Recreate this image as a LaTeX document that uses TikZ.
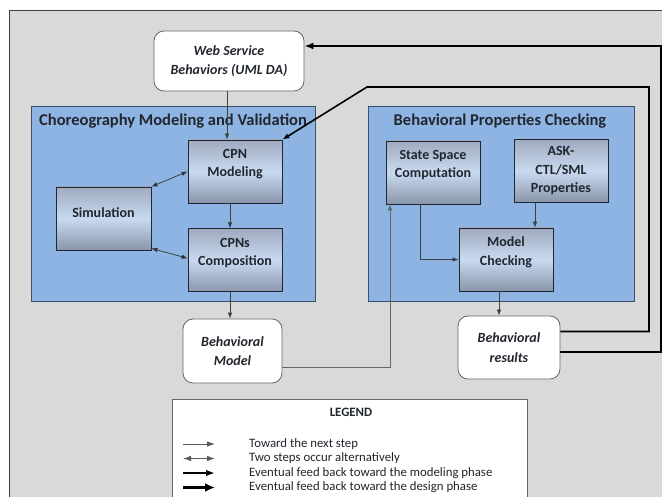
\documentclass[tikz,border=0pt]{standalone}
\usepackage{fontspec}
\setmainfont{Carlito}
\usepackage{xcolor}
\usetikzlibrary{arrows.meta,positioning,calc,backgrounds}
\definecolor{bggray}{HTML}{D9D9D9}
\definecolor{grpblue}{HTML}{8DB4E2}
\definecolor{grpline}{HTML}{3B4E6B}
\definecolor{boxtop}{HTML}{9EAABF}
\definecolor{boxmid}{HTML}{C9DAF0}
\definecolor{boxbot}{HTML}{8895AB}
\definecolor{inkdark}{HTML}{22262E}
\tikzset{
  task/.style     = {rectangle, draw=inkdark, line width=0.8pt,
                     top color=boxtop, bottom color=boxbot, middle color=boxmid,
                     minimum width=94pt, minimum height=63pt, inner sep=2pt,
                     align=center, text=inkdark,
                     font=\fontsize{14}{18.5}\selectfont\bfseries},
  twoline/.style  = {text depth=17pt},
  artefact/.style = {rectangle, rounded corners=10pt, draw=black!60,
                     line width=0.8pt, fill=white, align=center, text=inkdark,
                     font=\fontsize{14}{19.5}\selectfont\bfseries\itshape},
  phase/.style    = {rectangle, draw=grpline, line width=0.8pt, fill=grpblue},
  ttl/.style      = {font=\fontsize{16.5}{18}\selectfont\bfseries, text=inkdark},
  lgd/.style      = {font=\fontsize{12.8}{14}\selectfont, anchor=west,
                     text=inkdark, inner sep=0pt},
  ar/.style       = {-{Latex[length=6pt,width=4.5pt]}, line width=0.7pt,
                     draw=black!75},
  biar/.style     = {{Latex[length=6pt,width=4.5pt]}-{Latex[length=6pt,width=4.5pt]},
                     line width=0.7pt, draw=black!80},
  fbmod/.style    = {-{Latex[length=7pt,width=5.5pt]}, line width=1.6pt, draw=black},
  fbdes/.style    = {-{Latex[length=9pt,width=7pt]}, line width=2.8pt, draw=black},
  % legend samples, drawn a bit larger
  lgar/.style     = {-{Latex[length=8pt,width=5.5pt]}, line width=0.9pt, draw=black!65},
  lgbiar/.style   = {{Latex[length=8pt,width=5.5pt]}-{Latex[length=8pt,width=5.5pt]},
                     line width=0.9pt, draw=black!65},
  lgmod/.style    = {-{Latex[length=9pt,width=6.5pt]}, line width=1.8pt, draw=black},
  lgdes/.style    = {-{Latex[length=10pt,width=9pt]}, line width=3.4pt, draw=black}
}

\begin{document}
\begin{tikzpicture}[x=1pt,y=-1pt]
    \useasboundingbox (0,0) rectangle (662,497);
    \clip (0,0) rectangle (662,497);

    % ---- Background sheet ----
    \fill[bggray] (9,10) rectangle (700,520);
    \draw[black!75, line width=0.8pt] (9,520) -- (9,10) -- (700,10);

    % ---- Phases ----
    \node[phase, minimum width=284pt, minimum height=195pt] (cmv) at (173,203.5) {};
    \node[ttl] at (173,121) {Choreography Modeling and Validation};
    \node[phase, minimum width=266pt, minimum height=195pt] (bpc) at (501,203.5) {};
    \node[ttl] at (500,121) {Behavioral Properties Checking};

    % ---- Inputs / outputs ----
    \node[artefact, minimum width=150pt, minimum height=60pt] (web) at (229,61)
         {Web Service\\ Behaviors (UML DA)};
    \node[artefact, minimum width=99pt, minimum height=64pt] (bmodel) at (232.5,351)
         {Behavioral\\ Model};
    \node[artefact, minimum width=102pt, minimum height=63pt] (bres) at (509,347.5)
         {Behavioral\\ results};

    % ---- Modeling steps ----
    \node[task, twoline] (cpn) at (235,171.5) {CPN\\ Modeling};
    \node[task, twoline, below=25pt of cpn] (comp) {CPNs\\ Composition};
    \node[task, minimum width=95pt, text depth=11pt] (sim) at (103.5,218.5) {Simulation};

    % ---- Checking steps ----
    \node[task, twoline] (ssc) at (433,172.5) {State Space\\ Computation};
    \node[task] (ask) at (561,171) {ASK-\\ CTL/SML\\ Properties};
    \node[task, twoline] (mc) at (506,259.5) {Model\\ Checking};

    % ---- Arrows ----
    \draw[ar] ([xshift=-2pt]web.south) -- ([xshift=-8pt]cpn.north);
    \draw[ar] ([xshift=-5pt]cpn.south) -- ([xshift=-5pt]comp.north);
    \draw[biar] (sim.north east) -- (cpn.west);
    \draw[biar] ([yshift=2pt]sim.south east) -- ([yshift=2pt]comp.west);
    \draw[ar] ([xshift=-5pt]comp.south) -- ([xshift=-2.5pt]bmodel.north);
    \draw[ar, draw=black!60] ([yshift=-16pt]bmodel.east) -| ([xshift=-43pt]ssc.south);
    \draw[ar] ([xshift=-13pt]ssc.south) |- (mc.west);
    \draw[ar] ([xshift=-26pt]ask.south) -- ([xshift=29pt]mc.north);
    \draw[ar] ([xshift=-7pt]mc.south) -- ([xshift=-10pt]bres.north);

    % ---- Feedback loops ----
    \coordinate (modbend) at (649,87);
    \coordinate (modkink) at (367,87);
    \coordinate (desbend) at (661,46);
    \draw[fbmod] ([yshift=16pt]bres.east) -| (modbend) -- (modkink) -- (cpn.north east);
    \draw[fbdes] ([yshift=-4.5pt]bres.east) -| (desbend) -- (web.east |- desbend);

    % ---- Legend ----
    \node[rectangle, draw=black!60, line width=0.8pt, fill=white,
          minimum width=355pt, minimum height=120pt] (legend) at (349.5,459) {};
    \node[font=\fontsize{12.8}{14}\selectfont\bfseries, text=inkdark] at (351,412) {LEGEND};
    \foreach \i/\yy/\sty/\txt in {1/444/lgar/Toward the next step,
                                  2/458.5/lgbiar/Two steps occur alternatively,
                                  3/473/lgmod/Eventual feed back toward the modeling phase,
                                  4/487.5/lgdes/Eventual feed back toward the design phase} {
      \node[lgd] (lg\i) at (249,\yy) {\txt};
      \coordinate (ls\i) at (183,\yy);
      \coordinate (le\i) at (215,\yy);
      \draw[\sty] (ls\i) -- (le\i);
    }
\end{tikzpicture}
\end{document}
